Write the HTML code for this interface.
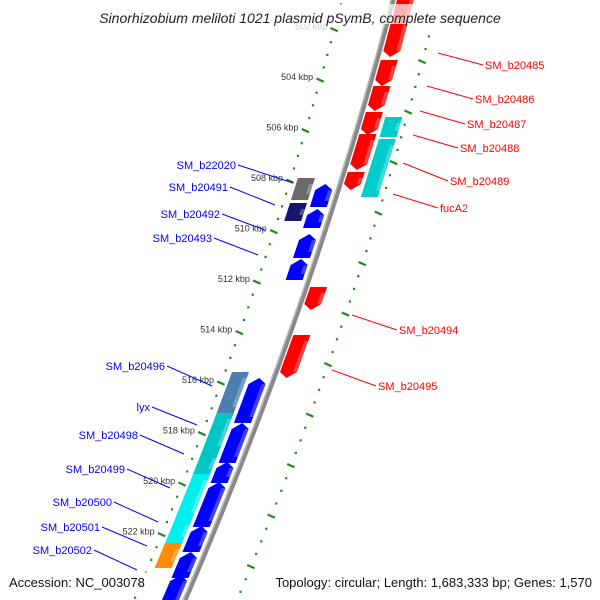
<!DOCTYPE html>
<html><head><meta charset="utf-8">
<style>
html,body{margin:0;padding:0;background:#fff;}
svg{display:block;font-family:"Liberation Sans",sans-serif;}
</style></head>
<body>
<svg id="map" width="600" height="600" viewBox="0 0 600 600" xmlns="http://www.w3.org/2000/svg">
<rect width="600" height="600" fill="#fff"/>
<g id="rulers"></g>
<g id="backbone"></g>
<g id="features"></g>
<g id="labels"></g>
<rect x="75" y="4" width="450" height="20" fill="#fff" fill-opacity="0.7"/>
<text x="300" y="23" text-anchor="middle" font-size="14" font-style="italic" fill="#222">Sinorhizobium meliloti 1021 plasmid pSymB, complete sequence</text>
<rect x="4" y="572" width="146" height="20" fill="#fff" fill-opacity="0.7"/>
<rect x="256" y="572" width="340" height="20" fill="#fff" fill-opacity="0.7"/>
<text x="9" y="587" font-size="13" fill="#111">Accession: NC_003078</text>
<text x="592" y="587" text-anchor="end" font-size="13" fill="#111">Topology: circular; Length: 1,683,333 bp; Genes: 1,570</text>
</svg>
<script>
const NS="http://www.w3.org/2000/svg";
// data
const tickKbp=[502,504,506,508,510,512,514,516,518,520,522,524];
const redGenes=[[-6,57],[60,86],[86,111],[112,135],[134,170],[172,190],[287,310],[335,378]];
const rightCyan=[[117,137],[139,197]];
const blueGenes=[[184,207],[209,228],[234,258],[259,280],[378,423],[423,463],[462,483],[482,527],[526,552],[552,578],[575,606]];
const innerLeft=[[178,200,"#6a6a6a"],[203,221,"#16166e"],[372,413,"#4a7fb0"],[413,452,"#00c6c6"],[452,475,"#00c6c6"],[474,519,"#00f0f0"],[519,543,"#00f0f0"],[543,568,"#ff8c00"]];
const rightLabels=[["SM_b20485",485,69,438,53],["SM_b20486",475,103,427,86],["SM_b20487",467,128,420,111],["SM_b20488",460,152,413,135],["SM_b20489",450,185,403,163],["fucA2",440,212,393,194],["SM_b20494",399,334,352,315],["SM_b20495",378,390,332,370]];
const leftLabels=[["SM_b22020",236,169,293,183],["SM_b20491",228,191,275,205],["SM_b20492",220,218,265,230],["SM_b20493",212,242,258,255],["SM_b20496",165,370,212,386],["lyx",150,411,197,425],["SM_b20498",138,439,184,454],["SM_b20499",125,473,170,488],["SM_b20500",112,506,158,522],["SM_b20501",100,531,147,546],["SM_b20502",92,554,137,570]];

function bx(y){return 393-0.2617*y-0.0001417*y*y;}
function rOff(y){return 45+7*y/600;}
function P(y,o){return (bx(y)+o).toFixed(1)+","+y.toFixed(1);}
function mk(tag,attrs,parent){const e=document.createElementNS(NS,tag);for(const k in attrs)e.setAttribute(k,attrs[k]);parent.appendChild(e);return e;}

const rul=document.getElementById('rulers');
for(let i=-2;i<52;i++){
  const yl=80-50.5+i*12.625;
  if(yl>-5&&yl<605){
    const major=((i%4)+4)%4===0;
    const cx=bx(yl)-51;
    const d=mk('rect',{x:cx-(major?4:1),y:yl-1,width:major?8:2.2,height:2.2,fill:"#1f8a1f",transform:major?`rotate(24 ${cx} ${yl})`:""},rul);
    
    
  }
  const yr=112-50.5+i*12.625;
  if(yr>-5&&yr<605){
    const major=((i%4)+4)%4===0;
    const cx=bx(yr)+rOff(yr);
    const d=mk('rect',{x:cx-(major?4:1),y:yr-1,width:major?8:2.2,height:2.2,fill:"#1f8a1f",transform:major?`rotate(24 ${cx} ${yr})`:""},rul);
    
    
  }
}
tickKbp.forEach((k,i)=>{
  const y=80+(k-504)/2*50.5;
  const t=mk('text',{x:bx(y)-58,y:y,"text-anchor":"end","font-size":"9",fill:(k===502||k===524)?"#ccc":"#333"},rul);
  t.textContent=k+" kbp";
  
  
});

const bb=document.getElementById('backbone');
let d1="",d2="";
for(let y=-5;y<=605;y+=5){d1+=(y===-5?"M":"L")+P(y,0);d2+=(y===-5?"M":"L")+P(y,-2);}
const b1=mk('path',{d:d1,stroke:"#888",fill:"none","stroke-width":5},bb);


const b2=mk('path',{d:d2,stroke:"#bbb",fill:"none","stroke-width":1.5},bb);



const fg=document.getElementById('features');
function arrow(y1,y2,o1,o2,dir,color,name){
  const h=Math.min(6,(y2-y1)/3),m=(o1+o2)/2;
  let pts;
  if(dir==="down") pts=[P(y1,o1),P(y1,o2),P(y2-h,o2),P(y2,m),P(y2-h,o1)];
  else if(dir==="up") pts=[P(y1+h,o1),P(y1,m),P(y1+h,o2),P(y2,o2),P(y2,o1)];
  else pts=[P(y1,o1),P(y1,o2),P(y2,o2),P(y2,o1)];
  const g=mk('polygon',{points:pts.join(" "),fill:color},fg);
  
  
  const s=mk('polygon',{points:[P(y1+h,o2-4),P(y1+h,o2),P(y2-h,o2),P(y2-h,o2-4)].join(" "),fill:"#fff","fill-opacity":"0.25"},fg);
  
  
}
redGenes.forEach((g,i)=>arrow(g[0],g[1],4,21,"down","#ff0000","red-gene-"+i));
rightCyan.forEach((g,i)=>arrow(g[0],g[1],25,42,"box","#00cccc","right-cyan-feature-"+i));
blueGenes.forEach((g,i)=>arrow(g[0],g[1],-23,-6,"up","#0000ff","blue-gene-"+i));
innerLeft.forEach((g,i)=>arrow(g[0],g[1],-44,-27,"box",g[2],"inner-feature-"+i));

const lg=document.getElementById('labels');
rightLabels.forEach(l=>{
  const ln=mk('line',{x1:l[3],y1:l[4],x2:l[1]-2,y2:l[2]-4,stroke:"#ff0000","stroke-width":1},lg);
  
  
  const t=mk('text',{x:l[1],y:l[2],"font-size":"11",fill:"#ff0000"},lg);
  t.textContent=l[0];
  
  
});
leftLabels.forEach(l=>{
  const ln=mk('line',{x1:l[1]+2,y1:l[2]-4,x2:l[3],y2:l[4],stroke:"#0000ff","stroke-width":1},lg);
  
  
  const t=mk('text',{x:l[1],y:l[2],"text-anchor":"end","font-size":"11",fill:"#0000ff"},lg);
  t.textContent=l[0];
  
  
});
</script>
</body></html>
